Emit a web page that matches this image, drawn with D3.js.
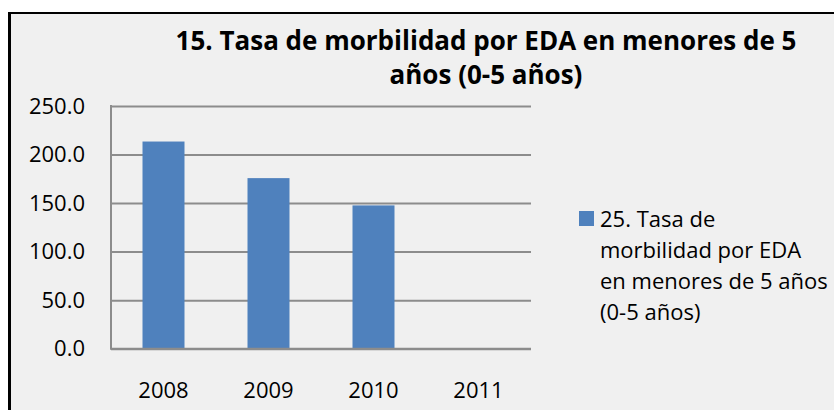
<!doctype html>
<html lang="es">
  <head>
    <meta charset="utf-8">
    <title>Tasa de morbilidad por EDA</title>
    <style>
        body {
            margin: 0;
            background-color: white;
        }
        .axisY path, .axisY line {
            stroke: none;
        }
        .grid line {
            stroke: #8c8c8c;
            stroke-width: 2;
        }
        .grid path {
            stroke: none;
        }
        .axisX path, .axisX line {
            stroke: none;
        }
        .tickText text {
            font-family: "Open Sans", sans-serif;
            font-size: 22px;
            fill: #000;
        }
    </style>
    <script src="https://d3js.org/d3.v7.min.js"></script>
  </head>
  <body>
    <div id="chart"></div>
<script>
// data
var categories = ["2008", "2009", "2010", "2011"];
var values = [213.4, 175.7, 147.6, 0];
var yTicks = [0, 50, 100, 150, 200, 250];
var titleLines = ["15. Tasa de morbilidad por EDA en menores de 5", "años (0-5 años)"];
var legendLines = ["25. Tasa de", "morbilidad por EDA", "en menores de 5 años", "(0-5 años)"];

var width = 834, height = 410;
var plot = { left: 111, right: 531, top: 106, bottom: 348.7 };

var svg = d3.select("#chart")
            .append("svg")
            .attr("width", width)
            .attr("height", height);

// chart area background + border
svg.append("rect")
    .attr("x", 9)
    .attr("y", 13)
    .attr("width", width - 9)
    .attr("height", height - 13)
    .attr("fill", "#f0f0f0");

svg.append("line")
    .attr("x1", 8).attr("x2", width)
    .attr("y1", 13).attr("y2", 13)
    .attr("stroke", "#000").attr("stroke-width", 2);

svg.append("line")
    .attr("x1", 9.5).attr("x2", 9.5)
    .attr("y1", 12).attr("y2", height)
    .attr("stroke", "#000").attr("stroke-width", 3);

var x = d3.scaleBand()
            .domain(categories)
            .range([plot.left, plot.right])
            .paddingInner(0.6)
            .paddingOuter(0.3);

var y = d3.scaleLinear()
            .domain([0, 250])
            .range([plot.bottom, plot.top]);

// gridlines
svg.append("g")
    .attr("class", "grid")
    .attr("transform", "translate(" + plot.left + ",0)")
    .call(d3.axisLeft(y).tickValues(yTicks).tickSize(-(plot.right - plot.left)).tickFormat(""));

// bars
svg.append("g")
    .selectAll("rect")
    .data(values)
    .enter()
    .append("rect")
    .attr("x", function(d, i) { return x(categories[i]); })
    .attr("y", function(d) { return y(d); })
    .attr("width", x.bandwidth())
    .attr("height", function(d) { return y(0) - y(d); })
    .attr("fill", "#4f81bd");

// axis lines
svg.append("line")
    .attr("x1", plot.left).attr("x2", plot.left)
    .attr("y1", plot.top - 1).attr("y2", plot.bottom + 1)
    .attr("stroke", "#8c8c8c").attr("stroke-width", 2);

svg.append("line")
    .attr("x1", plot.left).attr("x2", plot.right)
    .attr("y1", plot.bottom).attr("y2", plot.bottom)
    .attr("stroke", "#8c8c8c").attr("stroke-width", 2);

// y axis labels
svg.append("g")
    .attr("class", "axisY tickText")
    .attr("transform", "translate(" + plot.left + ",0)")
    .call(d3.axisLeft(y).tickValues(yTicks).tickSize(0).tickPadding(26).tickFormat(d3.format(".1f")));

// x axis labels
svg.append("g")
    .attr("class", "axisX tickText")
    .attr("transform", "translate(0," + plot.bottom + ")")
    .call(d3.axisBottom(x).tickSize(0).tickPadding(33.5));

// title
var title = svg.append("text")
    .attr("text-anchor", "middle")
    .attr("font-family", "'Open Sans', sans-serif")
    .attr("font-weight", "bold")
    .attr("font-size", "26px")
    .attr("fill", "#000");

title.selectAll("tspan")
    .data(titleLines)
    .enter()
    .append("tspan")
    .attr("x", 486)
    .attr("y", function(d, i) { return 50 + i * 34; })
    .text(function(d) { return d; });

// legend
var legend = svg.append("g");

legend.append("rect")
    .attr("x", 579)
    .attr("y", 211)
    .attr("width", 15)
    .attr("height", 15)
    .attr("fill", "#4f81bd");

legend.append("text")
    .attr("font-family", "'Open Sans', sans-serif")
    .attr("font-size", "22px")
    .attr("fill", "#000")
    .selectAll("tspan")
    .data(legendLines)
    .enter()
    .append("tspan")
    .attr("x", 600)
    .attr("y", function(d, i) { return 227 + i * 31; })
    .text(function(d) { return d; });
</script>
  </body>
</html>
